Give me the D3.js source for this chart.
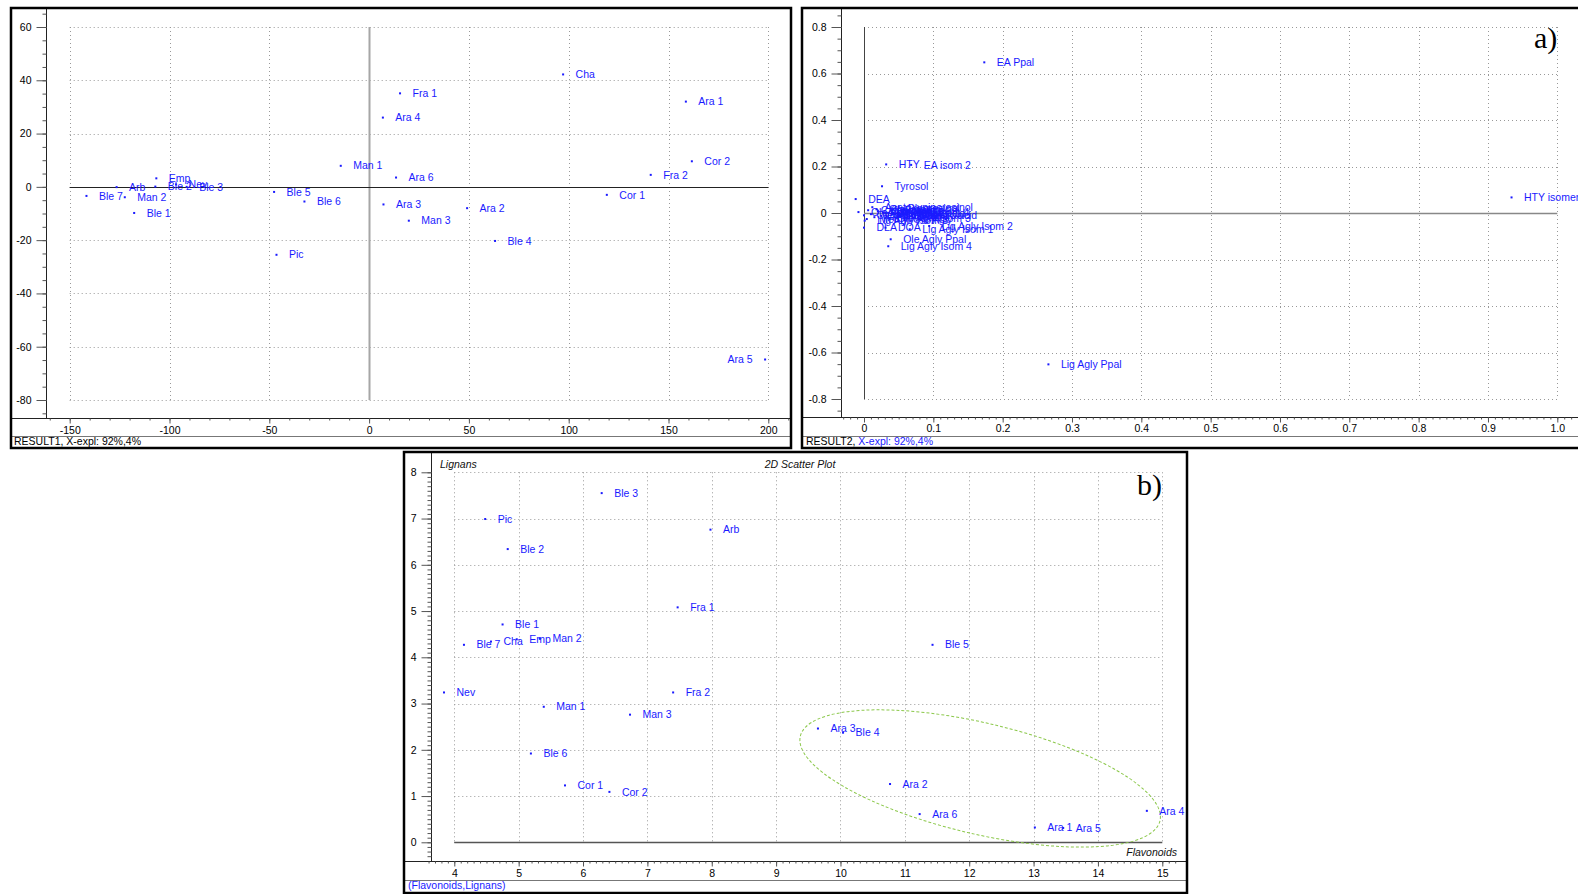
<!DOCTYPE html>
<html>
<head>
<meta charset="utf-8">
<script src="https://cdn.jsdelivr.net/npm/d3@7"></script>
<style>
body { margin: 0; background: #fff; }
svg { display: block; font-family: "Liberation Sans", Arial, sans-serif; }
</style>
</head>
<body>
<script>
// ---- panel a) left : sample scores
var scoreNames = ["Ble 7","Arb","Man 2","Ble 1","Emp","Ble 2","Nev","Ble 3","Ble 5","Ble 6","Man 1","Pic",
                  "Ara 4","Ara 6","Ara 3","Man 3","Fra 1","Ara 2","Ble 4","Cha","Cor 1","Fra 2","Cor 2","Ara 1","Ara 5"];
var scoreX = [-141.6,-126.5,-122.4,-117.7,-106.6,-107.1,-96.7,-91.4,-47.6,-32.4,-14.2,-46.4,
              6.9,13.5,7.2,19.9,15.5,49.1,63.1,97.2,119.1,141.1,161.7,158.7,198.4];
var scoreY = [-3.4,-0.1,-3.9,-9.8,3.2,0.1,0.9,0,-1.9,-5.5,7.9,-25.5,
              26,3.5,-6.6,-12.7,35.1,-8.0,-20.3,42.2,-3.0,4.5,9.6,32.0,-64.8];
var scoreXTicks = [-150,-100,-50,0,50,100,150,200];
var scoreYTicks = [60,40,20,0,-20,-40,-60,-80];

// ---- panel a) right : compound loadings
var loadNames = ["Acetoxypinoresinol","Ferulic acid","Pinoresinol","Luteolin","Vanillin","Apigenin","Ole Agly Isom 1",
                 "Vanillic acid","Cinnamic acid","Ole Agly Isom 2","p-Coumaric acid","HTY Acetate","Ole Agly Isom 3",
                 "Oleuropein","Syringic acid","Caffeic acid","Ole Agly Isom 4","Methyl Ole Agly",
                 "Lig Agly Isom 3","DLA","DOA","Lig Agly Isom 1","Lig Agly Isom 2","Ole Agly Ppal","Lig Agly Isom 4",
                 "DEA","Tyrosol","HTY","EA isom 2","EA Ppal","HTY isomer","Lig Agly Ppal"];
var loadX = [0.012,0.040,0.045,0.020,0.055,0.035,-0.008,
             0.010,0.050,0.000,0.025,0.015,0.030,
             0.018,0.042,0.006,0.028,0.004,
             0.001,0.000,0.031,0.066,0.094,0.0385,0.035,
             -0.012,0.026,0.032,0.068,0.1735,0.934,0.266];
var loadY = [0.025,0.012,0.020,0.008,0.005,0.000,0.004,
             -0.005,-0.008,-0.010,-0.012,-0.018,-0.022,
             0.016,-0.002,0.012,0.003,-0.026,
             -0.033,-0.063,-0.063,-0.070,-0.056,-0.113,-0.143,
             0.060,0.115,0.209,0.207,0.648,0.067,-0.651];
var loadXTicks = [0,0.1,0.2,0.3,0.4,0.5,0.6,0.7,0.8,0.9,1.0];
var loadYTicks = [0.8,0.6,0.4,0.2,0,-0.2,-0.4,-0.6,-0.8];

// ---- panel b) : flavonoids vs lignans
var flavNames = ["Ble 3","Pic","Ble 2","Arb","Fra 1","Ble 1","Ble 7","Cha","Emp","Man 2","Ble 5","Nev","Man 1",
                 "Fra 2","Man 3","Ble 6","Cor 1","Cor 2","Ara 3","Ble 4","Ara 2","Ara 6","Ara 1","Ara 5","Ara 4"];
var flavonoids = [6.29,4.48,4.83,7.98,7.47,4.75,4.15,4.57,4.97,5.33,11.43,3.84,5.39,
                  7.40,6.73,5.19,5.72,6.41,9.65,10.04,10.77,11.23,13.02,13.46,14.76];
var lignans = [7.55,6.99,6.34,6.76,5.08,4.71,4.27,4.34,4.39,4.40,4.27,3.24,2.93,
               3.24,2.76,1.92,1.23,1.09,2.46,2.37,1.26,0.61,0.32,0.31,0.68];
var flavXTicks = [4,5,6,7,8,9,10,11,12,13,14,15];
var flavYTicks = [0,1,2,3,4,5,6,7,8];
// group marked with an ellipse (centre, radii in data units, tilt in degrees)
var groupEllipse = {cx: 12.17, cy: 1.38, rx: 2.87, ry: 1.2, tilt: 13.25};

var blue = "#1a1aff";
var svg = d3.select("body").append("svg").attr("width", 1578).attr("height", 894);

function fmtDec(d) { return d === 0 ? "0" : d.toFixed(1); }

function drawPanel(c) {
  var g = svg.append("g");
  var x = d3.scaleLinear().domain(c.xDomain).range(c.xRange);
  var y = d3.scaleLinear().domain(c.yDomain).range(c.yRange);
  var b = c.box;

  // dotted grid
  g.append("g").selectAll("line").data(c.xTicks).enter().append("line")
    .attr("x1", function(d){ return Math.round(x(d)) + 0.5; })
    .attr("x2", function(d){ return Math.round(x(d)) + 0.5; })
    .attr("y1", y(c.yDomain[1])).attr("y2", y(c.yDomain[0]))
    .attr("stroke", "#999").attr("stroke-dasharray", "1,3");
  g.append("g").selectAll("line").data(c.yTicks).enter().append("line")
    .attr("y1", function(d){ return Math.round(y(d)) + 0.5; })
    .attr("y2", function(d){ return Math.round(y(d)) + 0.5; })
    .attr("x1", x(c.xDomain[0])).attr("x2", x(c.xDomain[1]))
    .attr("stroke", "#999").attr("stroke-dasharray", "1,3");

  // zero lines
  if (c.zeroV) {
    g.append("line").attr("x1", Math.round(x(0)) + 0.5).attr("x2", Math.round(x(0)) + 0.5)
      .attr("y1", y(c.yDomain[1])).attr("y2", y(c.yDomain[0]))
      .attr("stroke", c.zeroV.color).attr("stroke-width", c.zeroV.w);
  }
  g.append("line").attr("y1", Math.round(y(0)) + 0.5).attr("y2", Math.round(y(0)) + 0.5)
    .attr("x1", x(c.xDomain[0])).attr("x2", x(c.xDomain[1]))
    .attr("stroke", c.zeroH.color).attr("stroke-width", c.zeroH.w);

  // axes frame lines
  g.append("line").attr("x1", c.yAxisX + 0.5).attr("x2", c.yAxisX + 0.5)
    .attr("y1", b.y0).attr("y2", c.xAxisY).attr("stroke", "#222");
  g.append("line").attr("x1", b.x0).attr("x2", b.x1)
    .attr("y1", c.xAxisY + 0.5).attr("y2", c.xAxisY + 0.5).attr("stroke", "#222");
  g.append("line").attr("x1", b.x0).attr("x2", b.x1)
    .attr("y1", c.statusY + 0.5).attr("y2", c.statusY + 0.5).attr("stroke", "#777");

  // y axis ticks
  var yMinor = g.append("g").attr("transform", "translate(" + (c.yAxisX + 0.5) + ",0)")
    .call(d3.axisLeft(y).tickValues(c.yMinor).tickSize(4).tickFormat(""));
  var yMajor = g.append("g").attr("transform", "translate(" + (c.yAxisX + 0.5) + ",0)")
    .call(d3.axisLeft(y).tickValues(c.yTicks).tickSize(10).tickPadding(5).tickFormat(c.yFmt));
  // x axis ticks
  var xMinor = g.append("g").attr("transform", "translate(0," + (c.xAxisY + 0.5) + ")")
    .call(d3.axisBottom(x).tickValues(c.xMinor).tickSize(2).tickFormat(""));
  var xMajor = g.append("g").attr("transform", "translate(0," + (c.xAxisY + 0.5) + ")")
    .call(d3.axisBottom(x).tickValues(c.xTicks).tickSize(5).tickPadding(c.xPad).tickFormat(c.xFmt));
  [yMinor, yMajor, xMinor, xMajor].forEach(function(a){
    a.select(".domain").remove();
    a.selectAll("line").attr("stroke", "#555");
    a.selectAll("text").attr("fill", "#000").style("font-size", "10.5px")
      .style("font-family", "'Liberation Sans', Arial, sans-serif");
  });

  // points + labels, clipped to the plotting region
  var clipId = "clip" + c.id;
  svg.append("clipPath").attr("id", clipId).append("rect")
    .attr("x", c.yAxisX + 1).attr("y", b.y0).attr("width", b.x1 - c.yAxisX - 2).attr("height", c.xAxisY - b.y0);
  var pts = g.append("g").attr("clip-path", "url(#" + clipId + ")");
  var data = c.names.map(function(n, i){ return {name: n, x: c.xs[i], y: c.ys[i]}; });
  if (c.extra) c.extra(pts, x, y);
  pts.selectAll("rect").data(data).enter().append("rect")
    .attr("x", function(d){ return x(d.x) - 1; })
    .attr("y", function(d){ return y(d.y) - 1; })
    .attr("width", 2).attr("height", 2).attr("fill", blue);
  pts.selectAll("text").data(data).enter().append("text")
    .attr("x", function(d){ return x(d.x) > c.flipAt ? x(d.x) - 12.5 : x(d.x) + 12.5; })
    .attr("y", function(d){ return y(d.y); })
    .attr("dy", "0.35em")
    .attr("text-anchor", function(d){ return x(d.x) > c.flipAt ? "end" : "start"; })
    .attr("fill", blue).style("font-size", "10.5px")
    .text(function(d){ return d.name; });

  // status bar text
  var st = g.append("text").attr("x", c.statusX).attr("y", c.statusY + 8.5)
    .style("font-size", "10.5px");
  c.status.forEach(function(s){ st.append("tspan").attr("fill", s[1]).text(s[0]); });

  // border
  g.append("rect").attr("x", b.x0).attr("y", b.y0).attr("width", b.x1 - b.x0).attr("height", b.y1 - b.y0)
    .attr("fill", "none").attr("stroke", "#000").attr("stroke-width", 2.5);
  return g;
}

drawPanel({
  id: 1, box: {x0: 11, y0: 8, x1: 791, y1: 448},
  yAxisX: 46, xAxisY: 418, statusY: 436, statusX: 14, xPad: 3,
  xDomain: [-150, 200], xRange: [69.7, 768.3], yDomain: [-80, 60], yRange: [400, 27],
  xTicks: scoreXTicks, yTicks: scoreYTicks,
  xMinor: d3.range(-160, 211, 10), yMinor: d3.range(-85, 66, 5),
  xFmt: String, yFmt: String,
  zeroV: {color: "#a6a6a6", w: 2}, zeroH: {color: "#222", w: 1},
  names: scoreNames, xs: scoreX, ys: scoreY, flipAt: 760,
  status: [["RESULT1, X-expl: 92%,4%", "#000"]]
});

drawPanel({
  id: 2, box: {x0: 802, y0: 8, x1: 1590, y1: 448},
  yAxisX: 841, xAxisY: 417, statusY: 436, statusX: 806, xPad: 2,
  xDomain: [0, 1], xRange: [864, 1557.3], yDomain: [-0.8, 0.8], yRange: [399, 27],
  xTicks: loadXTicks, yTicks: loadYTicks,
  xMinor: d3.range(-0.03, 1.021, 0.01), yMinor: d3.range(-0.85, 0.86, 0.05),
  xFmt: fmtDec, yFmt: fmtDec,
  zeroV: {color: "#444", w: 1}, zeroH: {color: "#888", w: 1.5},
  names: loadNames, xs: loadX, ys: loadY, flipAt: 2000,
  status: [["RESULT2, ", "#000"], ["X-expl: 92%,4%", blue]]
});

var p3 = drawPanel({
  id: 3, box: {x0: 404, y0: 452, x1: 1187, y1: 893},
  yAxisX: 431, xAxisY: 861, statusY: 880, statusX: 408, xPad: 3,
  xDomain: [4, 15], xRange: [454.3, 1162.3], yDomain: [0, 8], yRange: [842.3, 472.3],
  xTicks: flavXTicks, yTicks: flavYTicks,
  xMinor: d3.range(3.6, 15.25, 0.1), yMinor: d3.range(-0.3, 8.01, 0.1),
  xFmt: String, yFmt: String,
  zeroV: null, zeroH: {color: "#555", w: 1.5},
  names: flavNames, xs: flavonoids, ys: lignans, flipAt: 2000,
  status: [["(Flavonoids,Lignans)", blue]],
  extra: function(pts, x, y) {
    var e = groupEllipse;
    pts.append("ellipse")
      .attr("cx", x(e.cx)).attr("cy", y(e.cy))
      .attr("rx", x(e.cx + e.rx) - x(e.cx)).attr("ry", y(e.cy) - y(e.cy + e.ry))
      .attr("transform", "rotate(" + e.tilt + "," + x(e.cx) + "," + y(e.cy) + ")")
      .attr("fill", "none").attr("stroke", "#8cc84b").attr("stroke-width", 1)
      .attr("stroke-dasharray", "3,2");
  }
});

// panel b) axis captions
p3.append("text").attr("x", 440).attr("y", 468).style("font-size", "10.5px").style("font-style", "italic")
  .attr("fill", "#111").text("Lignans");
p3.append("text").attr("x", 800).attr("y", 468).attr("text-anchor", "middle").style("font-size", "10.5px")
  .style("font-style", "italic").attr("fill", "#111").text("2D Scatter Plot");
p3.append("text").attr("x", 1177).attr("y", 856).attr("text-anchor", "end").style("font-size", "10.5px")
  .style("font-style", "italic").attr("fill", "#111").text("Flavonoids");

// figure letters
svg.append("text").attr("x", 1534).attr("y", 48).style("font-family", "'Liberation Serif', 'Times New Roman', serif")
  .style("font-size", "30px").text("a)");
svg.append("text").attr("x", 1137).attr("y", 495).style("font-family", "'Liberation Serif', 'Times New Roman', serif")
  .style("font-size", "30px").text("b)");
</script>
</body>
</html>
